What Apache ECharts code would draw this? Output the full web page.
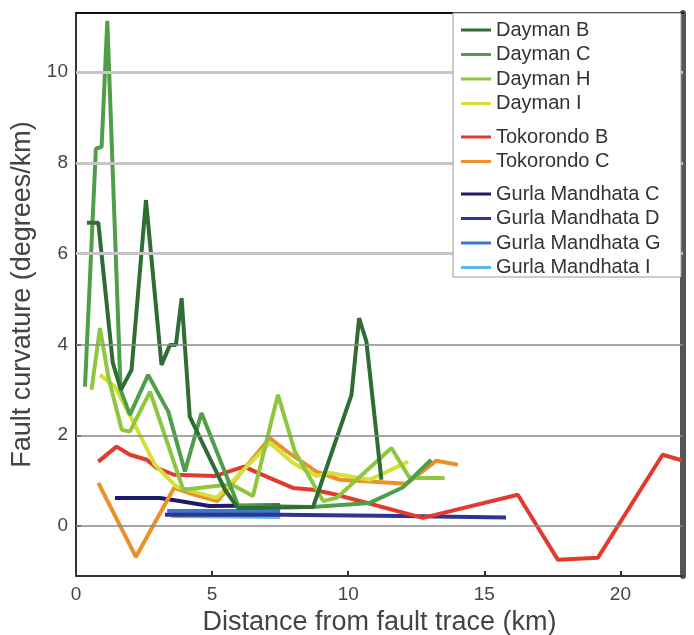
<!DOCTYPE html>
<html><head><meta charset="utf-8">
<script src="https://cdn.jsdelivr.net/npm/echarts@6/dist/echarts.min.js"></script>
<style>html,body{margin:0;padding:0;background:#fff}#c{width:694px;height:635px}</style>
</head><body><div id="c"></div>
<script>
// ---- data ----
const xTicks = [0, 5, 10, 15, 20];
const yTicks = [0, 2, 4, 6, 8, 10];

const daymanB = [[0.40,6.68],[0.82,6.68],[1.35,3.6],[1.65,3.0],[2.04,3.44],[2.57,7.18],[3.14,3.55],[3.45,3.99],[3.67,3.99],[3.88,5.02],[4.18,2.41],[5.47,0.8],[5.95,0.4],[8.71,0.42],[10.12,2.89],[10.40,4.58],[10.67,4.06],[11.22,1.02]];
const daymanC = [[0.33,3.07],[0.73,8.31],[0.94,8.35],[1.15,11.13],[1.64,3.0],[1.98,2.45],[2.65,3.33],[3.39,2.52],[4.0,1.2],[4.61,2.49],[5.96,0.45],[8.7,0.42],[10.79,0.51],[12.0,0.85],[13.05,1.46]];
const daymanH = [[0.57,3.0],[0.88,4.36],[1.2,3.25],[1.68,2.12],[1.98,2.08],[2.72,2.96],[3.94,0.8],[5.7,0.92],[6.5,0.66],[7.42,2.89],[8.04,1.64],[9.08,0.55],[9.57,0.62],[11.59,1.72],[12.26,1.06],[13.54,1.06]];
const daymanI = [[0.88,3.33],[1.43,3.07],[2.1,2.3],[2.9,1.35],[3.69,0.87],[5.16,0.62],[7.12,1.83],[7.97,1.39],[8.83,1.1],[9.32,1.17],[10.79,1.02],[12.2,1.42]];
const tokorondoB = [[0.82,1.42],[1.49,1.75],[1.98,1.57],[2.6,1.46],[2.96,1.28],[3.6,1.13],[5.1,1.1],[6.17,1.31],[7.0,1.09],[7.97,0.84],[8.71,0.8],[9.5,0.7],[12.74,0.18],[16.23,0.69],[17.7,-0.74],[19.17,-0.7],[21.55,1.57],[22.25,1.45]];
const tokorondoC = [[0.82,0.95],[2.2,-0.68],[3.6,0.84],[4.3,0.7],[5.2,0.55],[7.12,1.94],[7.73,1.65],[8.83,1.2],[9.69,1.02],[12.14,0.93],[13.24,1.44],[14.03,1.35]];
const gurlaC = [[1.43,0.62],[3.08,0.62],[3.8,0.55],[4.9,0.44],[7.5,0.46]];
const gurlaD = [[3.27,0.25],[7.5,0.25],[12.0,0.22],[15.8,0.19]];
const gurlaG = [[3.35,0.33],[7.5,0.33]];
const gurlaI = [[3.5,0.22],[7.5,0.2]];

const groups = [
  ['Dayman B','Dayman C','Dayman H','Dayman I'],
  ['Tokorondo B','Tokorondo C'],
  ['Gurla Mandhata C','Gurla Mandhata D','Gurla Mandhata G','Gurla Mandhata I']
];
const seriesData = {
  'Dayman B': daymanB, 'Dayman C': daymanC, 'Dayman H': daymanH, 'Dayman I': daymanI,
  'Tokorondo B': tokorondoB, 'Tokorondo C': tokorondoC,
  'Gurla Mandhata C': gurlaC, 'Gurla Mandhata D': gurlaD, 'Gurla Mandhata G': gurlaG, 'Gurla Mandhata I': gurlaI
};
// ---- styles ----
const colors = {
  'Dayman B':'#2f6d35','Dayman C':'#4f9e4a','Dayman H':'#8dc63f','Dayman I':'#d5df3a',
  'Tokorondo B':'#e23b2e','Tokorondo C':'#eb9128',
  'Gurla Mandhata C':'#1c1c6b','Gurla Mandhata D':'#2c3593','Gurla Mandhata G':'#3b78c9','Gurla Mandhata I':'#5cb6ea'
};
const drawOrder = ['Gurla Mandhata I','Gurla Mandhata G','Gurla Mandhata D','Gurla Mandhata C','Tokorondo C','Tokorondo B','Dayman I','Dayman H','Dayman C','Dayman B'];
const FONT = 'Liberation Sans, Arial, Helvetica, sans-serif';

const series = [{
  name: '_grid', type: 'line', data: [], z: 1, silent: true,
  markLine: {
    silent: true, symbol: 'none', animation: false, label: {show: false},
    data: yTicks.map(v => ({yAxis: v, lineStyle: v >= 6
      ? {color: '#c6c6c6', width: 3, type: 'solid'}
      : {color: '#8a8a8a', width: 1.5, type: 'solid'}}))
  }
}].concat(drawOrder.map(n => ({
  name: n, type: 'line', data: seriesData[n], showSymbol: false, symbol: 'none',
  lineStyle: {color: colors[n], width: 4}, itemStyle: {color: colors[n]},
  z: 2, animation: false
})));

const legendTops = [15, 122, 179];
const legends = groups.map((g, i) => ({
  data: g, orient: 'vertical', left: 456, top: legendTops[i], icon: 'rect',
  itemWidth: 30, itemHeight: 3, itemGap: 4.5, zlevel: 1, z: 10, selectedMode: false,
  textStyle: {fontSize: 20, color: '#333', fontFamily: FONT}
}));

const chart = echarts.init(document.getElementById('c'), null, {renderer: 'canvas'});
chart.setOption({
  animation: false,
  textStyle: {fontFamily: FONT},
  grid: {left: 76, right: 11, top: 13, bottom: 59, containLabel: false, outerBoundsMode: 'none'},
  xAxis: [{
    type: 'value', min: 0, max: 22.3,
    axisLine: {show: true, onZero: false, lineStyle: {color: '#333', width: 2}},
    axisTick: {show: true, inside: true, length: 5, customValues: xTicks, lineStyle: {color: '#333', width: 2}},
    axisLabel: {customValues: xTicks, fontSize: 19, color: '#444', margin: 9},
    splitLine: {show: false},
    name: 'Distance from fault trace (km)', nameLocation: 'middle', nameGap: 27,
    nameTextStyle: {fontSize: 27, color: '#444'}
  }, {
    type: 'value', position: 'top', min: 0, max: 22.3,
    axisLine: {show: true, onZero: false, lineStyle: {color: '#111', width: 2}},
    axisTick: {show: false}, axisLabel: {show: false}, splitLine: {show: false}
  }],
  yAxis: [{
    type: 'value', min: -1.1, max: 11.3,
    axisLine: {show: true, onZero: false, lineStyle: {color: '#333', width: 2}},
    axisTick: {show: true, inside: true, length: 5, customValues: yTicks, lineStyle: {color: '#333', width: 2}},
    axisLabel: {customValues: yTicks, fontSize: 19, color: '#444', margin: 8},
    splitLine: {show: false},
    name: 'Fault curvature (degrees/km)', nameLocation: 'middle', nameGap: 33,
    nameTextStyle: {fontSize: 27, color: '#444'}
  }, {
    type: 'value', position: 'right', min: -1.1, max: 11.3,
    axisLine: {show: true, onZero: false, lineStyle: {color: '#555', width: 6}},
    axisTick: {show: false}, axisLabel: {show: false}, splitLine: {show: false}
  }],
  legend: legends,
  graphic: [{
    type: 'rect', zlevel: 1, z: 0, silent: true,
    shape: {x: 453, y: 13, width: 228, height: 264},
    style: {fill: '#fff', stroke: '#9a9a9a', lineWidth: 1}
  }],
  series: series
});
</script></body></html>
